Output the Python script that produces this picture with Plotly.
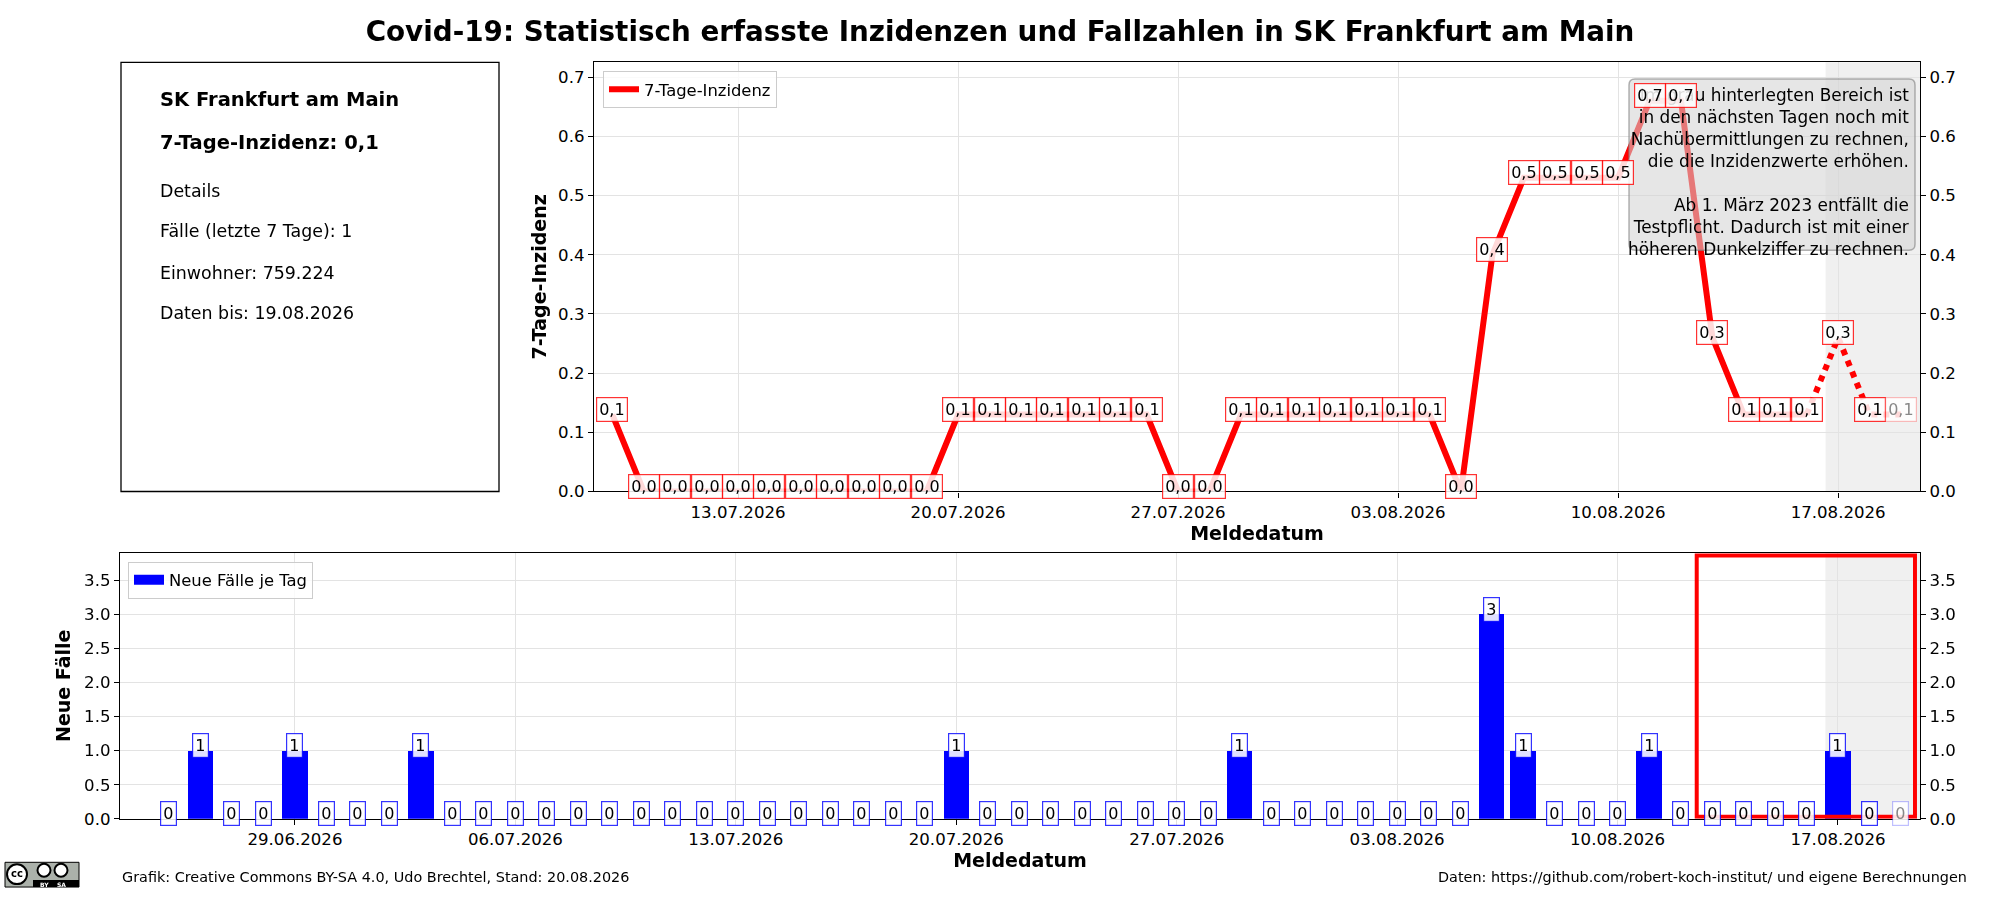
import plotly.graph_objects as go
import pandas as pd

FONT = "DejaVu Sans"
W, H = 2000, 900

# ---------------- data ----------------
inz_dates = [d.strftime("%Y-%m-%d") for d in pd.date_range("2026-07-09", "2026-08-19")]
inz_values = [0.13, 0.0, 0.0, 0.0, 0.0, 0.0, 0.0, 0.0, 0.0, 0.0, 0.0,
              0.13, 0.13, 0.13, 0.13, 0.13, 0.13, 0.13, 0.0, 0.0,
              0.13, 0.13, 0.13, 0.13, 0.13, 0.13, 0.13, 0.0, 0.40,
              0.53, 0.53, 0.53, 0.53, 0.66, 0.66, 0.26,
              0.13, 0.13, 0.13, 0.26, 0.13, 0.13]

case_dates = [d.strftime("%Y-%m-%d") for d in pd.date_range("2026-06-25", "2026-08-19")]
case_values = [0, 1, 0, 0, 1, 0, 0, 0, 1,
               0, 0, 0, 0, 0, 0, 0, 0, 0, 0, 0, 0, 0, 0, 0, 0,
               1,
               0, 0, 0, 0, 0, 0, 0, 0,
               1,
               0, 0, 0, 0, 0, 0, 0,
               3, 1,
               0, 0, 0,
               1,
               0, 0, 0, 0, 0,
               1,
               0, 0]

solid_until = "2026-08-16"          # afterwards: preliminary values (dotted)
shade_start = "2026-08-16 14:24"    # grey "Nachmeldungen" area
window_start = "2026-08-12 12:20"   # red box: last 7 days
window_end = "2026-08-19 10:40"
top_range = ["2026-07-08 10:00", "2026-08-19 14:30"]
bot_range = ["2026-06-23 10:40", "2026-08-19 14:30"]
top_ticks = ["2026-07-13", "2026-07-20", "2026-07-27", "2026-08-03", "2026-08-10", "2026-08-17"]
bot_ticks = ["2026-06-29", "2026-07-06", "2026-07-13", "2026-07-20", "2026-07-27",
             "2026-08-03", "2026-08-10", "2026-08-17"]
top_yticks = [0.0, 0.1, 0.2, 0.3, 0.4, 0.5, 0.6, 0.7]
bot_yticks = [0.0, 0.5, 1.0, 1.5, 2.0, 2.5, 3.0, 3.5]
top_ymax = 0.725
bot_ymax = 3.9
box_ymax = 3.86

title = "Covid-19: Statistisch erfasste Inzidenzen und Fallzahlen in SK Frankfurt am Main"
info_lines = [("SK Frankfurt am Main", True), ("7-Tage-Inzidenz: 0,1", True), ("Details", False),
              ("Fälle (letzte 7 Tage): 1", False), ("Einwohner: 759.224", False),
              ("Daten bis: 19.08.2026", False)]
note_text = ("Im grau hinterlegten Bereich ist<br>in den nächsten Tagen noch mit<br>"
             "Nachübermittlungen zu rechnen,<br>die die Inzidenzwerte erhöhen.<br><br>"
             "Ab 1. März 2023 entfällt die<br>Testpflicht. Dadurch ist mit einer<br>"
             "höheren Dunkelziffer zu rechnen.")
footer_left = "Grafik: Creative Commons BY-SA 4.0, Udo Brechtel, Stand: 20.08.2026"
footer_right = "Daten: https://github.com/robert-koch-institut/ und eigene Berechnungen"


def px(x, y):
    return x / W, 1 - y / H


# ---------------- figure ----------------
fig = go.Figure()

cut = inz_dates.index(solid_until)
fig.add_trace(go.Scatter(x=inz_dates[:cut + 1], y=inz_values[:cut + 1], mode="lines",
                         line=dict(color="#ff0000", width=6), name="7-Tage-Inzidenz",
                         xaxis="x", yaxis="y", legend="legend", hoverinfo="skip"))
fig.add_trace(go.Scatter(x=inz_dates[cut:], y=inz_values[cut:], mode="lines",
                         line=dict(color="#ff0000", width=6, dash="dot"), showlegend=False,
                         xaxis="x", yaxis="y", hoverinfo="skip"))
fig.add_trace(go.Scatter(x=inz_dates, y=inz_values, mode="markers", opacity=0,
                         showlegend=False, xaxis="x", yaxis="y3", hoverinfo="skip"))

fig.add_trace(go.Bar(x=case_dates, y=case_values, width=0.8 * 86400000,
                     marker=dict(color="#0000ff", line=dict(width=0)), name="Neue Fälle je Tag",
                     xaxis="x2", yaxis="y2", showlegend=False, hoverinfo="skip"))
# legend entry only (wide blue patch like the reference)
fig.add_trace(go.Scatter(x=[None], y=[None], mode="lines", line=dict(color="#0000ff", width=10),
                         name="Neue Fälle je Tag", xaxis="x2", yaxis="y2", legend="legend2",
                         hoverinfo="skip"))
fig.add_trace(go.Scatter(x=case_dates, y=case_values, mode="markers", opacity=0,
                         showlegend=False, xaxis="x2", yaxis="y4", hoverinfo="skip"))

shapes = []
# info box
x0, y0 = px(121, 63)
x1, y1 = px(499, 497)
shapes.append(dict(type="rect", xref="paper", yref="paper", x0=x0, x1=x1, y0=y1, y1=y0,
                   line=dict(color="black", width=1.3), fillcolor="rgba(0,0,0,0)"))
# grey shading
shapes.append(dict(type="rect", xref="x", yref="y domain", x0=shade_start, x1=top_range[1],
                   y0=0, y1=1, fillcolor="#f0f0f0", line=dict(width=0), layer="below"))
shapes.append(dict(type="rect", xref="x2", yref="y2 domain", x0=shade_start, x1=bot_range[1],
                   y0=0, y1=1, fillcolor="#f0f0f0", line=dict(width=0), layer="below"))
# red window box
shapes.append(dict(type="rect", xref="x2", yref="y2", x0=window_start, x1=window_end,
                   y0=0.03, y1=box_ymax, line=dict(color="#ff0000", width=4),
                   fillcolor="rgba(0,0,0,0)", layer="above"))
# note box (rounded)
nx0, ny1 = px(1629, 80)
nx1, ny0 = px(1915, 253)
rx, ry = 6 / W, 6 / H
path = (f"M {nx0+rx},{ny1} L {nx1-rx},{ny1} Q {nx1},{ny1} {nx1},{ny1-ry} "
        f"L {nx1},{ny0+ry} Q {nx1},{ny0} {nx1-rx},{ny0} L {nx0+rx},{ny0} "
        f"Q {nx0},{ny0} {nx0},{ny0+ry} L {nx0},{ny1-ry} Q {nx0},{ny1} {nx0+rx},{ny1} Z")
shapes.append(dict(type="path", xref="paper", yref="paper", path=path,
                   fillcolor="rgba(211,211,211,0.57)", line=dict(color="rgba(128,128,128,0.6)", width=1.5),
                   layer="above"))
# CC logo
lx0, ly0 = px(5, 872)
lx1, ly1 = px(79, 897)
shapes.append(dict(type="rect", xref="paper", yref="paper", x0=lx0, x1=lx1, y0=ly1, y1=ly0,
                   fillcolor="#abb1aa", line=dict(color="black", width=1)))
sx0, sy0 = px(33, 890)
shapes.append(dict(type="rect", xref="paper", yref="paper", x0=sx0, x1=lx1, y0=ly1, y1=sy0,
                   fillcolor="black", line=dict(width=0)))
for cx, cy, r in [(17, 884, 10), (44, 880, 6.5), (61, 880, 6.5)]:
    a0, b0 = px(cx - r, cy - r)
    a1, b1 = px(cx + r, cy + r)
    shapes.append(dict(type="circle", xref="paper", yref="paper", x0=a0, x1=a1, y0=b1, y1=b0,
                       fillcolor="white", line=dict(color="black", width=2)))

annotations = []
# info text
info_y = [101, 144, 193, 234, 276, 317]
for (txt, bold), yy in zip(info_lines, info_y):
    ax, ay = px(158, yy)
    annotations.append(dict(text=txt, xref="paper", yref="paper", x=ax, y=ay, xanchor="left",
                            yanchor="middle", showarrow=False,
                            font=dict(family=FONT, size=19.5 if bold else 17.4, color="black",
                                      weight="bold" if bold else "normal")))
# note text
tx, ty = px(1911, 84)
annotations.append(dict(text=note_text, xref="paper", yref="paper", x=tx, y=ty, xanchor="right",
                        yanchor="top", align="right", showarrow=False,
                        font=dict(family=FONT, size=16.9, color="black")))
# incidence labels
for i, (d, v) in enumerate(zip(inz_dates, inz_values)):
    last = i == len(inz_dates) - 1
    annotations.append(dict(text=f"{v:.1f}".replace(".", ","), x=d, y=v, xref="x", yref="y",
                            showarrow=False, yshift=5, yanchor="middle",
                            bgcolor="rgba(255,255,255,0.85)",
                            bordercolor="rgba(255,0,0,0.25)" if last else "rgba(255,0,0,0.8)",
                            borderwidth=1.2, borderpad=2,
                            font=dict(family=FONT, size=16, color="#888888" if last else "black")))
# case labels
for i, (d, v) in enumerate(zip(case_dates, case_values)):
    last = i == len(case_dates) - 1
    annotations.append(dict(text=str(v), x=d, y=v, xref="x2", yref="y2",
                            showarrow=False, yshift=5, yanchor="middle",
                            bgcolor="rgba(255,255,255,0.88)",
                            bordercolor="rgba(0,0,255,0.25)" if last else "rgba(0,0,255,0.8)",
                            borderwidth=1.2, borderpad=2,
                            font=dict(family=FONT, size=16, color="#888888" if last else "black")))
# footer
fx, fy = px(120, 887)
annotations.append(dict(text=footer_left, xref="paper", yref="paper", x=fx, y=fy, xanchor="left",
                        yanchor="middle", showarrow=False, font=dict(family=FONT, size=14.4, color="black")))
fx, fy = px(1969, 887)
annotations.append(dict(text=footer_right, xref="paper", yref="paper", x=fx, y=fy, xanchor="right",
                        yanchor="middle", showarrow=False, font=dict(family=FONT, size=14.4, color="black")))
# cc logo text
for txt, cx, cy, sz, col in [("cc", 17, 883, 10, "black"), ("BY", 44, 894, 6, "white"), ("SA", 61, 894, 6, "white")]:
    a, b = px(cx, cy)
    annotations.append(dict(text=f"<b>{txt}</b>", xref="paper", yref="paper", x=a, y=b, showarrow=False,
                            xanchor="center", yanchor="middle", font=dict(family=FONT, size=sz, color=col)))

tickfont = dict(family=FONT, size=16.6, color="black")
titlefont = dict(family=FONT, size=19, color="black", weight="bold")
common_axis = dict(showline=True, linecolor="black", linewidth=1.4, ticks="outside", ticklen=5,
                   tickwidth=1.3, tickcolor="black", tickfont=tickfont, gridcolor="#e3e3e3",
                   gridwidth=1, zeroline=False)

tx0, _ = px(594, 0)
tx1, _ = px(1920, 0)
_, ty1 = px(0, 63)
_, ty0 = px(0, 497)
bx0, _ = px(120, 0)
_, by1 = px(0, 559)
_, by0 = px(0, 828)

fig.update_layout(
    width=W, height=H, autosize=False, margin=dict(l=0, r=0, t=0, b=0, pad=0),
    paper_bgcolor="white", plot_bgcolor="white",
    font=dict(family=FONT, color="black"),
    title=dict(text=title, x=0.5, xanchor="center", y=1 - 31 / H, yanchor="middle",
               font=dict(family=FONT, size=27.8, color="black", weight="bold")),
    xaxis=dict(common_axis, domain=[tx0, tx1], anchor="y", range=top_range, type="date",
               tickvals=top_ticks, tickformat="%d.%m.%Y", mirror=True,
               title=dict(text="Meldedatum", font=titlefont, standoff=4)),
    yaxis=dict(common_axis, domain=[ty0, ty1], anchor="x", range=[0, top_ymax],
               tickvals=top_yticks, tickformat=".1f", mirror=True,
               title=dict(text="7-Tage-Inzidenz", font=titlefont, standoff=6)),
    yaxis3=dict(common_axis, overlaying="y", side="right", anchor="x", range=[0, top_ymax],
                tickvals=top_yticks, tickformat=".1f", showgrid=False),
    xaxis2=dict(common_axis, domain=[bx0, tx1], anchor="y2", range=bot_range, type="date",
                tickvals=bot_ticks, tickformat="%d.%m.%Y", mirror=True,
                title=dict(text="Meldedatum", font=titlefont, standoff=4)),
    yaxis2=dict(common_axis, domain=[by0, by1], anchor="x2", range=[0, bot_ymax],
                tickvals=bot_yticks, tickformat=".1f", mirror=True,
                title=dict(text="Neue Fälle", font=titlefont, standoff=8)),
    yaxis4=dict(common_axis, overlaying="y2", side="right", anchor="x2", range=[0, bot_ymax],
                tickvals=bot_yticks, tickformat=".1f", showgrid=False),
    legend=dict(x=603 / W, y=1 - 72 / H, xanchor="left", yanchor="top",
                bgcolor="rgba(255,255,255,0.8)", bordercolor="#cccccc", borderwidth=1,
                font=dict(family=FONT, size=16.4, color="black")),
    legend2=dict(x=128 / W, y=1 - 568 / H, xanchor="left", yanchor="top",
                 bgcolor="rgba(255,255,255,0.8)", bordercolor="#cccccc", borderwidth=1,
                 font=dict(family=FONT, size=16.4, color="black")),
    shapes=shapes, annotations=annotations, bargap=0, hovermode=False, showlegend=True,
)

post = ("document.documentElement.style.overflow='hidden';"
        "document.body.style.margin='0';document.body.style.overflow='hidden';")
fig.write_html("out.html", config={"displayModeBar": False}, post_script=post)
